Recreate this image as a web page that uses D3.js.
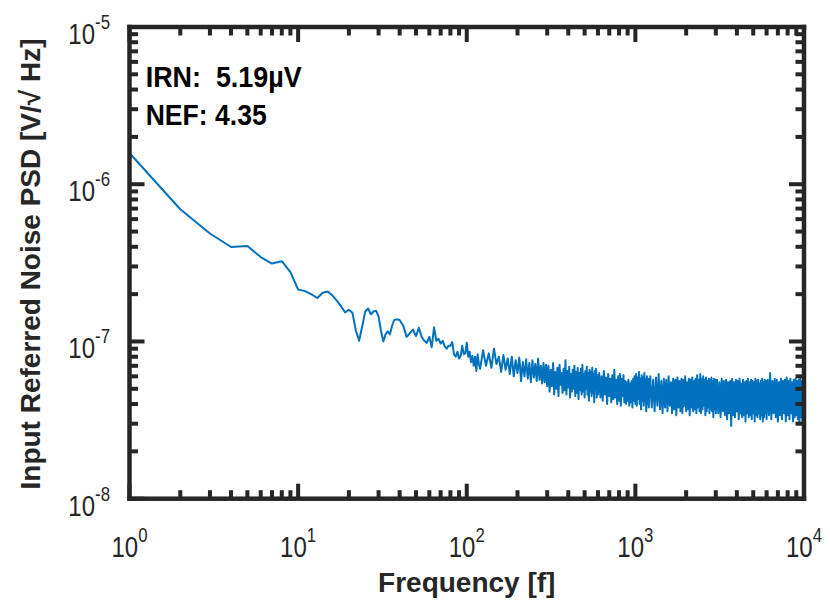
<!DOCTYPE html>
<html>
<head>
<meta charset="utf-8">
<script src="https://cdn.jsdelivr.net/npm/d3@7"></script>
<style>
  html, body { margin: 0; padding: 0; background: #fff; overflow: hidden; }
  svg { display: block; }
  text { font-family: "Liberation Sans", Arial, Helvetica, sans-serif; }
</style>
</head>
<body>
<svg id="chart" width="830" height="613"></svg>
<script>
// Input-referred noise PSD, values in nV/√Hz, stored per block of linear frequency bins.
// Each block: first bin frequency (Hz), bin spacing (Hz), values.
const block1Start = 1,    block1Step = 1;
const block1 = [1580, 693, 486, 399, 405, 344, 313, 324, 276, 214, 209, 199, 189, 204, 208, 196, 181, 167, 153, 159,
                152, 117, 101, 125, 155, 162, 149, 155, 157, 144, 117, 100, 111, 116, 111, 125, 136, 138, 138, 137];
const block2Start = 42,   block2Step = 2;
const block2 = [126, 107, 113, 119, 108, 122, 107, 101, 98, 107, 92, 123, 101, 104, 97, 101, 93, 90, 94, 94,
                99, 83, 80, 86, 78, 81, 94, 83, 84, 98, 80, 86, 74, 81, 70, 80, 65, 83, 72, 67];
const block3Start = 125,  block3Step = 5;
const block3 = [88, 70, 84, 68, 90, 72, 80, 64, 82, 66, 78, 62, 80, 60, 76, 63, 79, 56,
                74, 60, 77, 58, 73, 55, 76, 59, 72, 56, 78, 57, 70, 54, 73, 55, 71, 52];
const block4Start = 305,  block4Step = 5;
const block4 = [70, 48, 66, 52, 73, 46, 64, 50, 68, 45, 71, 53, 63, 47, 67, 49, 76, 46, 65, 51,
                69, 44, 62, 48, 66, 50, 70, 45, 64, 47, 68, 43, 63, 49, 67, 46, 71, 48, 62, 44,
                65, 50, 69, 46, 63, 42, 66, 48, 64, 45, 68, 47, 62, 41, 65, 49, 67, 44, 61, 46];
const block5Start = 610,  block5Step = 10;
const block5 = [63, 44, 60, 42, 65, 46, 59, 40, 62, 45, 58, 41, 61, 43, 66, 44, 57, 40, 60, 42,
                62, 39, 58, 45, 61, 41, 56, 40, 55, 42, 57, 39, 54, 41, 56, 38, 58, 42, 60, 40,
                62, 39, 59, 43, 64, 40, 58, 37, 61, 42, 59, 39, 63, 41, 57, 36, 60, 40, 58, 38];
const block6Start = 1225, block6Step = 25;
const block6 = [60, 38, 57, 36, 59, 39, 62, 37, 56, 35, 58, 38, 57, 36, 60, 39, 55, 35, 58, 37,
                57, 34, 59, 38, 56, 36, 58, 35, 57, 39, 60, 36, 55, 37, 58, 34, 57, 38, 59, 36,
                56, 37, 58, 35, 61, 38, 57, 36, 62, 35, 58, 37, 60, 39, 57, 34, 59, 36, 56, 38,
                58, 35, 57, 37, 59, 36, 56, 33, 58, 37, 57, 35];
const block7Start = 3050, block7Step = 50;
const block7 = [57, 35, 55, 33, 58, 36, 56, 34, 57, 32, 55, 35, 56, 29, 58, 34, 55, 33, 57, 36,
                56, 32, 58, 35, 54, 33, 57, 34, 55, 31, 56, 35, 58, 33, 55, 34, 57, 32, 56, 35,
                55, 31, 58, 34, 56, 33, 57, 35, 54, 32, 56, 34, 58, 31, 55, 33, 57, 35, 56, 32];
const block8Start = 6100, block8Step = 100;
const block8 = [57, 34, 63, 32, 56, 35, 58, 33, 57, 31, 55, 34, 58, 32, 56, 35, 57, 31, 59, 34,
                56, 32, 58, 35, 55, 31, 57, 33, 58, 34, 56, 32, 57, 30, 58, 33, 56, 31, 59, 62];

// Axis decades and annotation text
const xTickExponents = [0, 1, 2, 3, 4];
const yTickExponents = [-8, -7, -6, -5];
const xLabel = "Frequency [f]";
const yLabel = "Input Referred Noise PSD [V/\u221A Hz]";
const noteIRN = "IRN:  5.19\u00B5V";
const noteNEF = "NEF: 4.35";

// Assemble the spectrum from its blocks
const blocks = [
  [block1Start, block1Step, block1], [block2Start, block2Step, block2],
  [block3Start, block3Step, block3], [block4Start, block4Step, block4],
  [block5Start, block5Step, block5], [block6Start, block6Step, block6],
  [block7Start, block7Step, block7], [block8Start, block8Step, block8]
];
const spectrum = blocks.flatMap(([start, step, vals]) =>
  vals.map((v, i) => ({ f: start + i * step, v: v * 1e-9 })));

const plotLeft = 129.5, plotRight = 804, plotTop = 27, plotBottom = 498.7;
const axisColor = "#262626";
const boxWidth = 4.5, tickWidth = 4;

const x = d3.scaleLog().domain([1, 1e4]).range([plotLeft, plotRight]);
const y = d3.scaleLog().domain([1e-8, 1e-5]).range([plotBottom, plotTop]);

const svg = d3.select("#chart");

// Noise curve
svg.append("path")
  .datum(spectrum)
  .attr("d", d3.line().x(d => x(d.f)).y(d => y(d.v)))
  .attr("fill", "none")
  .attr("stroke", "#0072BD")
  .attr("stroke-width", 2)
  .attr("stroke-linejoin", "round");

// Tick positions: decades and the 2..9 minors between them
const xMajor = xTickExponents.map(e => Math.pow(10, e));
const yMajor = yTickExponents.map(e => Math.pow(10, e));
const minorsOf = majors => majors.slice(0, -1).flatMap(m => d3.range(2, 10).map(k => k * m));
const xTicks = xMajor.map(v => ({ v, len: 15 })).concat(minorsOf(xMajor).map(v => ({ v, len: 8.5 })));
const yTicks = yMajor.map(v => ({ v, len: 15 })).concat(minorsOf(yMajor).map(v => ({ v, len: 8.5 })));

const frame = svg.append("g").attr("fill", axisColor);

// Inward ticks as solid bars along each edge
frame.selectAll("rect.tick-b").data(xTicks).join("rect").attr("class", "tick-b")
  .attr("x", d => x(d.v) - tickWidth / 2).attr("y", d => plotBottom - d.len)
  .attr("width", tickWidth).attr("height", d => d.len);
frame.selectAll("rect.tick-t").data(xTicks).join("rect").attr("class", "tick-t")
  .attr("x", d => x(d.v) - tickWidth / 2).attr("y", plotTop)
  .attr("width", tickWidth).attr("height", d => d.len);
frame.selectAll("rect.tick-l").data(yTicks).join("rect").attr("class", "tick-l")
  .attr("x", plotLeft).attr("y", d => y(d.v) - tickWidth / 2)
  .attr("width", d => d.len).attr("height", tickWidth);
frame.selectAll("rect.tick-r").data(yTicks).join("rect").attr("class", "tick-r")
  .attr("x", d => plotRight - d.len).attr("y", d => y(d.v) - tickWidth / 2)
  .attr("width", d => d.len).attr("height", tickWidth);

// Axes box edges
const h = boxWidth / 2;
const edges = [
  { x: plotLeft - h, y: plotTop - h, w: plotRight - plotLeft + boxWidth, hgt: boxWidth },
  { x: plotLeft - h, y: plotBottom - h, w: plotRight - plotLeft + boxWidth, hgt: boxWidth },
  { x: plotLeft - h, y: plotTop - h, w: boxWidth, hgt: plotBottom - plotTop + boxWidth },
  { x: plotRight - h, y: plotTop - h, w: boxWidth, hgt: plotBottom - plotTop + boxWidth }
];
frame.selectAll("rect.edge").data(edges).join("rect").attr("class", "edge")
  .attr("x", d => d.x).attr("y", d => d.y).attr("width", d => d.w).attr("height", d => d.hgt);

// Power-of-ten tick labels
function powerLabel(g, exp, anchor) {
  const t = g.append("text")
    .attr("text-anchor", anchor)
    .attr("fill", axisColor)
    .attr("font-size", 30);
  t.append("tspan").text("10");
  t.append("tspan").attr("font-size", 21).attr("dy", -15).text(String(exp));
}

xTickExponents.forEach(e => {
  const g = svg.append("g").attr("transform", `translate(${x(Math.pow(10, e))},557) scale(0.8,1)`);
  powerLabel(g, e, "middle");
});
yTickExponents.forEach(e => {
  const g = svg.append("g").attr("transform", `translate(110,${y(Math.pow(10, e)) + 17}) scale(0.8,1)`);
  powerLabel(g, e, "end");
});

// Axis titles
svg.append("text")
  .attr("x", (plotLeft + plotRight) / 2).attr("y", 592)
  .attr("text-anchor", "middle")
  .attr("font-weight", "bold").attr("font-size", 28)
  .attr("fill", axisColor)
  .text(xLabel);

svg.append("text")
  .attr("transform", `translate(40,264) rotate(-90)`)
  .attr("text-anchor", "middle")
  .attr("font-weight", "bold").attr("font-size", 28)
  .attr("fill", axisColor)
  .text(yLabel);

// Summary figures in the upper-left corner
svg.append("text")
  .attr("x", 145.7).attr("y", 87.3)
  .attr("font-weight", "bold").attr("font-size", 29)
  .attr("textLength", 156).attr("lengthAdjust", "spacingAndGlyphs")
  .style("white-space", "pre")
  .attr("fill", "#000")
  .text(noteIRN);

svg.append("text")
  .attr("x", 145.7).attr("y", 125)
  .attr("font-weight", "bold").attr("font-size", 29)
  .attr("textLength", 121).attr("lengthAdjust", "spacingAndGlyphs")
  .attr("fill", "#000")
  .text(noteNEF);
</script>
</body>
</html>
